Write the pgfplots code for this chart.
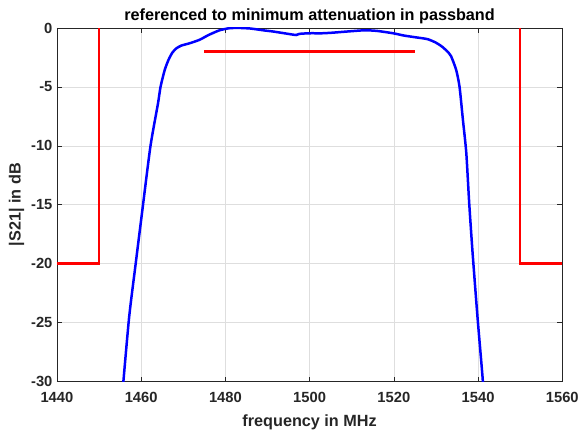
\documentclass[border=0pt]{standalone}
\usepackage{fontspec}
\setmainfont{Liberation Sans}
\usepackage{pgfplots}
\pgfplotsset{compat=1.18}
\definecolor{axgray}{rgb}{0.15,0.15,0.15}
\definecolor{gridgray}{rgb}{0.87,0.87,0.87}
\begin{document}
\begin{tikzpicture}[x=1bp,y=1bp]
% page frame, 582 x 432
\path (0,0) rectangle (582,432);
\begin{axis}[
  at={(57bp,50bp)}, anchor=south west,
  width=506bp, height=354bp, scale only axis,
  xmin=1440, xmax=1560, ymin=-30, ymax=0,
  xtick={1440,1460,...,1560},
  ytick={-30,-25,...,0},
  grid=major,
  major grid style={gridgray, line width=0.6bp},
  axis line style={axgray, line width=0.6bp},
  tick style={axgray, line width=0.6bp},
  tick align=inside, major tick length=5bp,
  /pgf/number format/assume math mode=true,
  /pgf/number format/set thousands separator={},
  ticklabel style={font=\fontsize{14.8}{16}\selectfont\bfseries, text=axgray},
  xticklabel style={yshift=-7bp},
  yticklabel style={xshift=-1bp},
  label style={font=\fontsize{16.3}{18}\selectfont\bfseries, text=axgray},
  xlabel style={yshift=-5bp},
  title style={font=\fontsize{16.3}{18}\selectfont\bfseries, text=black, yshift=-5bp},
  xlabel={frequency in MHz},
  ylabel={|S21| in dB},
  title={referenced to minimum attenuation in passband},
]
% tolerance mask
\addplot[red, line width=2.5bp] coordinates {(1440,-20) (1450,-20) (1450,0)};
\addplot[red, line width=2.5bp] coordinates {(1550,0) (1550,-20) (1560,-20)};
\addplot[red, line width=2.5bp] coordinates {(1475,-2) (1525,-2)};
% measured S21
\addplot[blue, line width=2.5bp, smooth, tension=0.4] coordinates {
(1455.3,-32) (1457.1,-24.7) (1458.7,-20) (1460.2,-15.7) (1462.2,-10.05)
(1464.0,-6.4) (1464.6,-5) (1465.6,-3.56) (1466.5,-2.7) (1467.4,-2.1)
(1468.3,-1.75) (1469.5,-1.5) (1471.5,-1.3) (1473.9,-1.0) (1476.0,-0.6)
(1478.6,-0.2) (1481.0,-0.02) (1483.4,0) (1486,-0.05) (1489,-0.2)
(1491.3,-0.3) (1494,-0.45) (1496.8,-0.6) (1497.6,-0.5) (1500,-0.45)
(1503,-0.45) (1505.5,-0.4) (1509,-0.3) (1513,-0.2) (1516,-0.25)
(1519.8,-0.45) (1522.5,-0.65) (1525.3,-0.8) (1528,-0.95) (1530.0,-1.25)
(1531.5,-1.6) (1533.0,-2.1) (1533.6,-2.4) (1534.8,-3.56) (1535.6,-5)
(1536.4,-7.8) (1537.2,-10.6) (1537.9,-14.9) (1538.7,-19.1) (1539.9,-24.7)
(1541.1,-29.8) (1541.4,-32)
};
\end{axis}
\end{tikzpicture}
\end{document}
